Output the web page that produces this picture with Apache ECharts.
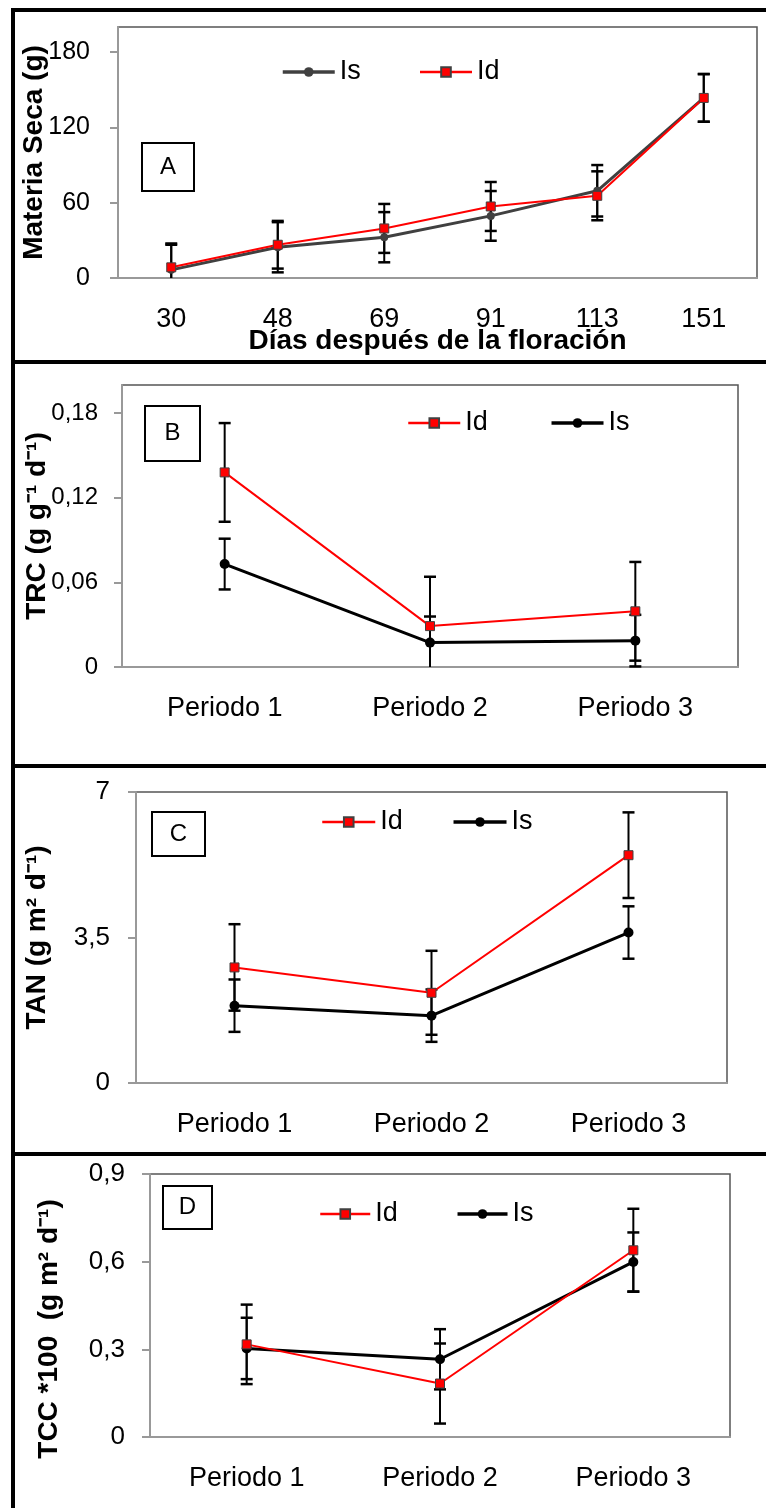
<!DOCTYPE html>
<html><head><meta charset="utf-8">
<script src="https://cdn.jsdelivr.net/npm/echarts@6/dist/echarts.min.js"></script>
<style>
html,body{margin:0;padding:0;background:#fff;width:766px;height:1508px;overflow:hidden;}
.c{position:absolute;left:0;width:766px;}
.f{position:absolute;background:#000;z-index:5;}
</style></head><body>
<div id="pA" class="c" style="top:0;height:360px"></div>
<div id="pB" class="c" style="top:362px;height:402px"></div>
<div id="pC" class="c" style="top:766px;height:386px"></div>
<div id="pD" class="c" style="top:1154px;height:354px"></div>
<div class="f" style="left:11px;top:8px;width:4px;height:1500px"></div>
<div class="f" style="left:11px;top:8px;width:760px;height:4px"></div>
<div class="f" style="left:11px;top:360px;width:760px;height:4px"></div>
<div class="f" style="left:11px;top:764px;width:760px;height:4px"></div>
<div class="f" style="left:11px;top:1152px;width:760px;height:4px"></div>
<script>
// ---- data ----
const daysA = ['30', '48', '69', '91', '113', '151'];
const msIs = [6.5, 24.5, 32.5, 49.5, 69.5, 143.5];
const msIsErr = [20, 20, 20, 19.8, 20.5, 19];
const msId = [8.5, 26.5, 39.5, 57, 65.5, 143.5];
const msIdErr = [19, 19, 19.5, 19.5, 19.5, 19];
const ticksA = [0, 60, 120, 180];

const periods = ['Periodo 1', 'Periodo 2', 'Periodo 3'];
const trcId = [0.138, 0.029, 0.0395];
const trcIdErr = [0.035, 0.035, 0.035];
const trcIs = [0.073, 0.0173, 0.0187];
const trcIsErr = [0.018, 0.0185, 0.0183];
const ticksB = [0, 0.06, 0.12, 0.18];

const tanId = [2.78, 2.17, 5.48];
const tanIdErr = [1.04, 1.01, 1.03];
const tanIs = [1.86, 1.62, 3.62];
const tanIsErr = [0.63, 0.63, 0.63];
const ticksC = [0, 3.5, 7];

const tccId = [0.317, 0.183, 0.639];
const tccIdErr = [0.136, 0.137, 0.142];
const tccIs = [0.303, 0.266, 0.599];
const tccIsErr = [0.105, 0.103, 0.101];
const ticksD = [0, 0.3, 0.6, 0.9];

// ---- helpers ----
const FONT = "'Liberation Sans', Arial, sans-serif";
const fmt = v => String(+(+v).toFixed(4)).replace('.', ',');

function errSeries(vals, errs) {
  return {
    type: 'custom', z: 1, silent: true,
    data: vals.map((v, i) => [i, v - errs[i], v + errs[i]]),
    encode: { x: 0, y: [1, 2] },
    renderItem(params, api) {
      const i = api.value(0), lo = api.value(1), hi = api.value(2);
      const loC = Math.max(lo, 0);
      const pH = api.coord([i, hi]), pL = api.coord([i, loC]);
      const x = pH[0], w = 6;
      const ch = [
        { type: 'line', shape: { x1: x, y1: pH[1], x2: x, y2: pL[1] }, style: { stroke: '#000', lineWidth: 2 } },
        { type: 'line', shape: { x1: x - w, y1: pH[1], x2: x + w, y2: pH[1] }, style: { stroke: '#000', lineWidth: 2.5 } }
      ];
      if (lo >= 0) ch.push({ type: 'line', shape: { x1: x - w, y1: pL[1], x2: x + w, y2: pL[1] }, style: { stroke: '#000', lineWidth: 2.5 } });
      return { type: 'group', children: ch };
    }
  };
}
function idSeries(vals) {
  return { type: 'line', name: 'Id', data: vals, z: 3, symbol: 'rect', symbolSize: 9,
    lineStyle: { color: '#ff0000', width: 2 },
    itemStyle: { color: '#ff0000', borderColor: '#404040', borderWidth: 1 } };
}
function isSeries(vals, color, size, width) {
  return { type: 'line', name: 'Is', data: vals, z: 3, symbol: 'circle', symbolSize: size,
    lineStyle: { color: color, width: width },
    itemStyle: { color: color } };
}
function legendItem(name) {
  return name === 'Id'
    ? { name: 'Id', lineStyle: { width: 2.5 } }
    : { name: 'Is', lineStyle: { width: 3.5 } };
}

function panel(c) {
  return {
    animation: false,
    textStyle: { fontFamily: FONT },
    grid: { left: c.grid[0], top: c.grid[1], width: c.grid[2], height: c.grid[3], show: true, borderColor: '#555', borderWidth: 1.5, backgroundColor: 'transparent' },
    legend: { data: c.legendOrder.map(legendItem), left: c.leg[0], top: c.leg[1], itemGap: c.leg[2], itemWidth: c.leg[3], itemHeight: 12, padding: 0,
      textStyle: { fontSize: 27, color: '#000', fontFamily: FONT, lineHeight: 28 } },
    xAxis: {
      type: 'category', data: c.cats, boundaryGap: true,
      axisTick: { show: false },
      axisLine: { lineStyle: { color: '#999', width: 2 } },
      axisLabel: { color: '#000', fontSize: 27, margin: 28, interval: 0, fontFamily: FONT },
      name: c.xName || '', nameLocation: 'middle', nameGap: 49, nameMoveOverlap: false,
      nameTextStyle: { color: '#000', fontSize: 28, fontWeight: 'bold', fontFamily: FONT }
    },
    yAxis: {
      type: 'value', min: 0, max: c.max, interval: c.interval,
      splitLine: { show: false },
      axisLine: { show: true, lineStyle: { color: '#999', width: 2 } },
      axisTick: { show: true, length: 8, lineStyle: { color: '#999', width: 2 }, customValues: c.ticks },
      axisLabel: { color: '#000', fontSize: c.yFont, margin: c.yMargin, customValues: c.ticks, formatter: fmt, fontFamily: FONT },
      name: c.yName, nameLocation: 'middle', nameGap: c.nameGap, nameMoveOverlap: false,
      nameTextStyle: { color: '#000', fontSize: 28, fontWeight: 'bold', fontFamily: FONT, padding: c.namePad || 0 }
    },
    graphic: [
      { type: 'rect', shape: { x: c.box[0], y: c.box[1], width: c.box[2], height: c.box[3] }, style: { fill: '#fff', stroke: '#000', lineWidth: 2 }, z: 10 },
      { type: 'text', x: c.box[0] + c.box[2] / 2, y: c.box[1] + c.box[3] / 2, z: 11,
        style: { text: c.letter, fontSize: 24, fontFamily: FONT, fill: '#000', align: 'center', verticalAlign: 'middle' } }
    ],
    series: c.series
  };
}

const opts = {
  pA: panel({
    cats: daysA, grid: [118, 27, 639, 253], max: 200, interval: 60, ticks: ticksA,
    yFont: 25, yMargin: 28, yName: 'Materia Seca (g)', nameGap: 70,
    xName: 'Días después de la floración',
    legendOrder: ['Is', 'Id'], leg: [281, 58, 58, 52],
    box: [142, 143, 52, 48], letter: 'A',
    series: [errSeries(msIs, msIsErr), errSeries(msId, msIdErr), isSeries(msIs, '#404040', 8, 3), idSeries(msId)]
  }),
  pB: panel({
    cats: periods, grid: [122, 23, 616, 282], max: 0.2, interval: 0.02, ticks: ticksB,
    yFont: 24, yMargin: 24, yName: 'TRC (g g⁻¹ d⁻¹)', nameGap: 71,
    legendOrder: ['Id', 'Is'], leg: [407, 47, 62, 52],
    box: [145, 44, 55, 55], letter: 'B',
    series: [errSeries(trcId, trcIdErr), errSeries(trcIs, trcIsErr), isSeries(trcIs, '#000', 10, 3), idSeries(trcId)]
  }),
  pC: panel({
    cats: periods, grid: [136, 26, 591, 291], max: 7, interval: 3.5, ticks: ticksC,
    yFont: 26, yMargin: 26, yName: 'TAN (g m² d⁻¹)', nameGap: 85,
    legendOrder: ['Id', 'Is'], leg: [321, 42, 49, 53],
    box: [152, 46, 53, 44], letter: 'C',
    series: [errSeries(tanId, tanIdErr), errSeries(tanIs, tanIsErr), isSeries(tanIs, '#000', 10, 3), idSeries(tanId)]
  }),
  pD: panel({
    cats: periods, grid: [150, 20, 580, 263], max: 0.9, interval: 0.3, ticks: ticksD,
    yFont: 26, yMargin: 25, yName: 'TCC *100  (g m² d⁻¹)', nameGap: 87, namePad: [0, 47, 0, 0],
    legendOrder: ['Id', 'Is'], leg: [319, 46, 58, 50],
    box: [163, 32, 49, 43], letter: 'D',
    series: [errSeries(tccId, tccIdErr), errSeries(tccIs, tccIsErr), isSeries(tccIs, '#000', 10, 3), idSeries(tccId)]
  })
};
Object.keys(opts).forEach(id => {
  const ch = echarts.init(document.getElementById(id), null, { renderer: 'canvas' });
  ch.setOption(opts[id]);
});
</script>
</body></html>
